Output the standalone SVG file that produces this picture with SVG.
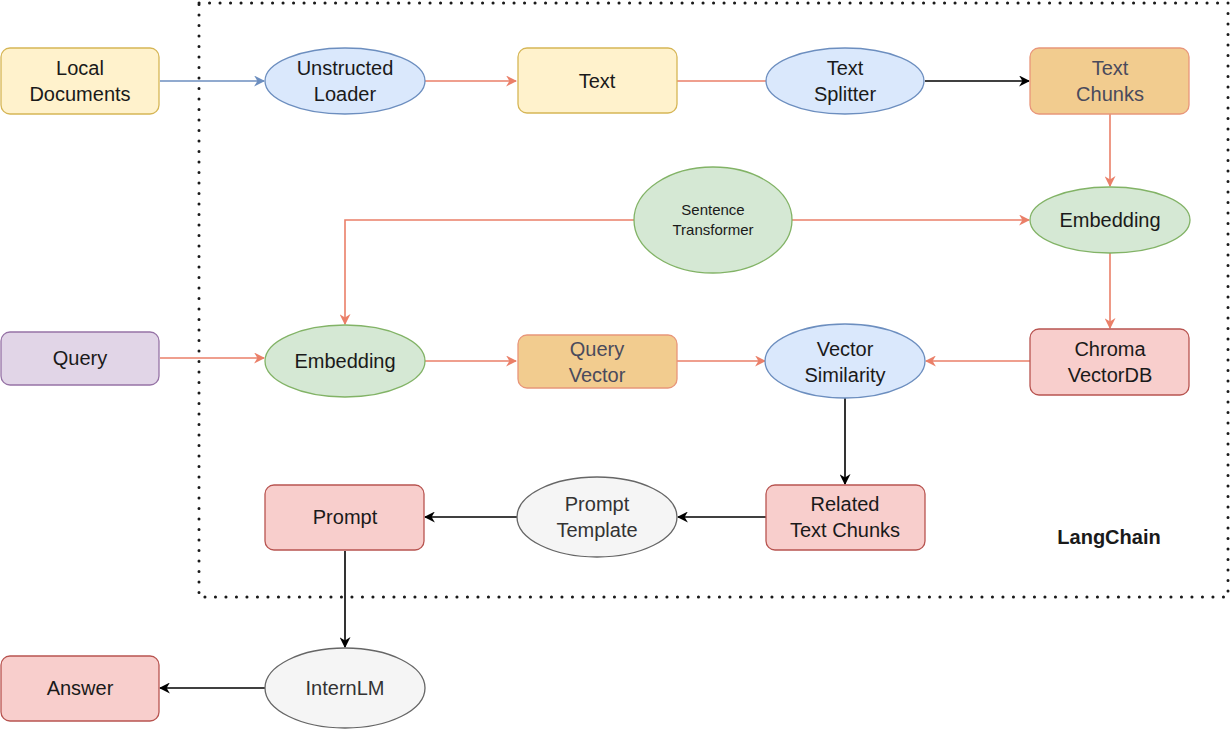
<svg xmlns="http://www.w3.org/2000/svg" width="1232" height="729" viewBox="0 0 1232 729">
<defs>
<style>
text{font-family:"Liberation Sans",Arial,sans-serif;font-size:20px;text-anchor:middle;fill:#1a1a1a}
.yel{fill:#fff2cc;stroke:#d6b656;stroke-width:1.3}
.blu{fill:#dae8fc;stroke:#6c8ebf;stroke-width:1.3}
.grn{fill:#d5e8d4;stroke:#82b366;stroke-width:1.3}
.org{fill:#f2cc8f;stroke:#e8967a;stroke-width:1.3}
.red{fill:#f8cecc;stroke:#b85450;stroke-width:1.3}
.pur{fill:#e1d5e7;stroke:#9673a6;stroke-width:1.3}
.gry{fill:#f5f5f5;stroke:#666666;stroke-width:1.3}
.tdim{fill:#4a4a5c}
.tgry{fill:#333333}
.e{fill:none;stroke-width:1.6}
.ce{stroke:#ea7f68}
.cb{stroke:#6c8ebf}
.ck{stroke:#000000}
</style>
<marker id="aR" viewBox="0 0 10 10" refX="9" refY="5" markerWidth="11" markerHeight="11" markerUnits="userSpaceOnUse" orient="auto"><path d="M0,0 L10,5 L0,10 L3,5 Z" fill="#ea7f68"/></marker>
<marker id="aB" viewBox="0 0 10 10" refX="9" refY="5" markerWidth="11" markerHeight="11" markerUnits="userSpaceOnUse" orient="auto"><path d="M0,0 L10,5 L0,10 L3,5 Z" fill="#6c8ebf"/></marker>
<marker id="aK" viewBox="0 0 10 10" refX="9" refY="5" markerWidth="11" markerHeight="11" markerUnits="userSpaceOnUse" orient="auto"><path d="M0,0 L10,5 L0,10 L3,5 Z" fill="#000000"/></marker>
</defs>
<rect width="1232" height="729" fill="#ffffff"/>
<g id="langchain-boundary">
<rect x="199" y="3" width="1029" height="594" fill="none" stroke="#1a1a1a" stroke-width="3" stroke-dasharray="0.1 10.4" stroke-linecap="round"/>
<text x="1109" y="544" style="font-weight:bold">LangChain</text>
</g>
<g id="connectors">
<line class="e cb" x1="160" y1="81" x2="264" y2="81" marker-end="url(#aB)"/>
<line class="e ce" x1="425" y1="81" x2="516" y2="81" marker-end="url(#aR)"/>
<line class="e ce" x1="677" y1="81" x2="766" y2="81"/>
<line class="e ck" x1="925" y1="81" x2="1029" y2="81" marker-end="url(#aK)"/>
<line class="e ce" x1="1110" y1="114" x2="1110" y2="186" marker-end="url(#aR)"/>
<line class="e ce" x1="792" y1="220" x2="1029" y2="220" marker-end="url(#aR)"/>
<polyline class="e ce" points="634,220 345,220 345,324" marker-end="url(#aR)"/>
<line class="e ce" x1="1110" y1="253" x2="1110" y2="328" marker-end="url(#aR)"/>
<line class="e ce" x1="160" y1="358" x2="264" y2="358" marker-end="url(#aR)"/>
<line class="e ce" x1="425" y1="361" x2="516" y2="361" marker-end="url(#aR)"/>
<line class="e ce" x1="677" y1="361" x2="765" y2="361" marker-end="url(#aR)"/>
<line class="e ce" x1="1030" y1="361" x2="926" y2="361" marker-end="url(#aR)"/>
<line class="e ck" x1="845" y1="398" x2="845" y2="484" marker-end="url(#aK)"/>
<line class="e ck" x1="766" y1="517" x2="678" y2="517" marker-end="url(#aK)"/>
<line class="e ck" x1="517" y1="517" x2="425" y2="517" marker-end="url(#aK)"/>
<line class="e ck" x1="345" y1="551" x2="345" y2="647" marker-end="url(#aK)"/>
<line class="e ck" x1="265" y1="688" x2="160" y2="688" marker-end="url(#aK)"/>
</g>
<g id="local-documents"><rect class="yel" x="1" y="48" width="158" height="66" rx="9"/><text x="80" y="75">Local</text><text x="80" y="101">Documents</text></g>
<g id="unstructed-loader"><ellipse class="blu" cx="345" cy="81" rx="80" ry="33"/><text x="345" y="75">Unstructed</text><text x="345" y="101">Loader</text></g>
<g id="text"><rect class="yel" x="518" y="48" width="159" height="65" rx="9"/><text x="597" y="88">Text</text></g>
<g id="text-splitter"><ellipse class="blu" cx="845" cy="81" rx="79" ry="33"/><text x="845" y="75">Text</text><text x="845" y="101">Splitter</text></g>
<g id="text-chunks"><rect class="org" x="1030" y="48" width="159" height="66" rx="9"/><text class="tdim" x="1110" y="75">Text</text><text class="tdim" x="1110" y="101">Chunks</text></g>
<g id="sentence-transformer"><ellipse class="grn" cx="713" cy="220" rx="79" ry="53"/><text x="713" y="215" style="font-size:15px">Sentence</text><text x="713" y="235" style="font-size:15px">Transformer</text></g>
<g id="embedding-doc"><ellipse class="grn" cx="1110" cy="220" rx="80" ry="33"/><text x="1110" y="227">Embedding</text></g>
<g id="query"><rect class="pur" x="1" y="332" width="158" height="53" rx="9"/><text x="80" y="365">Query</text></g>
<g id="embedding-query"><ellipse class="grn" cx="345" cy="361" rx="80" ry="36"/><text x="345" y="368">Embedding</text></g>
<g id="query-vector"><rect class="org" x="518" y="335" width="159" height="53" rx="9"/><text class="tdim" x="597" y="356">Query</text><text class="tdim" x="597" y="382">Vector</text></g>
<g id="vector-similarity"><ellipse class="blu" cx="845" cy="361" rx="80" ry="37"/><text x="845" y="356">Vector</text><text x="845" y="382">Similarity</text></g>
<g id="chroma-vectordb"><rect class="red" x="1030" y="329" width="159" height="66" rx="9"/><text x="1110" y="356">Chroma</text><text x="1110" y="382">VectorDB</text></g>
<g id="related-text-chunks"><rect class="red" x="766" y="485" width="159" height="65" rx="9"/><text x="845" y="511">Related</text><text x="845" y="537">Text Chunks</text></g>
<g id="prompt-template"><ellipse class="gry" cx="597" cy="517" rx="80" ry="40"/><text class="tgry" x="597" y="511">Prompt</text><text class="tgry" x="597" y="537">Template</text></g>
<g id="prompt"><rect class="red" x="265" y="485" width="159" height="65" rx="9"/><text x="345" y="524">Prompt</text></g>
<g id="internlm"><ellipse class="gry" cx="345" cy="688" rx="80" ry="40"/><text class="tgry" x="345" y="695">InternLM</text></g>
<g id="answer"><rect class="red" x="1" y="656" width="158" height="65" rx="9"/><text x="80" y="695">Answer</text></g>
</svg>
